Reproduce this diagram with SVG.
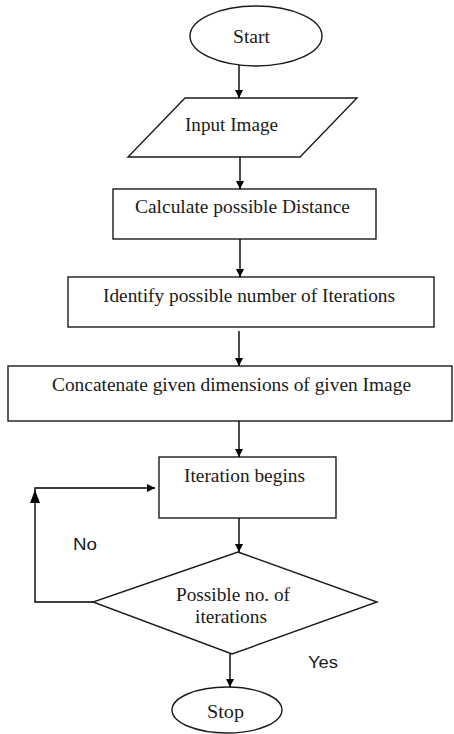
<svg xmlns="http://www.w3.org/2000/svg" width="454" height="734" viewBox="0 0 454 734">
<defs>
<marker id="ah" viewBox="0 0 10 10" refX="10" refY="5" markerWidth="8" markerHeight="8" markerUnits="userSpaceOnUse" orient="auto">
<path d="M0,0 L10,5 L0,10 z" fill="#000"/>
</marker>
</defs>
<style>
.s{fill:#fff;stroke:#1a1a1a;stroke-width:1.4}
.t{font-family:"Liberation Serif","Times New Roman",serif;font-size:18px;fill:#1a1a1a}
.l{font-family:"Liberation Sans",Arial,sans-serif;font-size:16px;fill:#1a1a1a}
.c{fill:none;stroke:#000;stroke-width:1.4}
</style>
<rect width="454" height="734" fill="#fff"/>
<g id="start">
<ellipse class="s" cx="256" cy="36" rx="66" ry="30"/>
<text class="t" x="233" y="43" textLength="37" lengthAdjust="spacingAndGlyphs">Start</text>
</g>
<g id="input">
<polygon class="s" points="185,98 357,98 300,157 128,157"/>
<text class="t" x="185" y="131" textLength="93" lengthAdjust="spacingAndGlyphs">Input Image</text>
</g>
<g id="calc">
<rect class="s" x="113" y="189" width="263" height="50"/>
<text class="t" x="135" y="213" textLength="215" lengthAdjust="spacingAndGlyphs">Calculate possible Distance</text>
</g>
<g id="identify">
<rect class="s" x="68" y="277" width="366" height="50"/>
<text class="t" x="103" y="302" textLength="292" lengthAdjust="spacingAndGlyphs">Identify possible number of Iterations</text>
</g>
<g id="concat">
<rect class="s" x="8" y="366" width="444" height="55"/>
<text class="t" x="52" y="391" textLength="359" lengthAdjust="spacingAndGlyphs">Concatenate given dimensions of given Image</text>
</g>
<g id="iter">
<rect class="s" x="159" y="457" width="177" height="61"/>
<text class="t" x="184" y="482" textLength="121" lengthAdjust="spacingAndGlyphs">Iteration begins</text>
</g>
<g id="decision">
<polygon class="s" points="238,552 377,602 232,654 93,602"/>
<text class="t" x="176" y="601" textLength="114" lengthAdjust="spacingAndGlyphs">Possible no. of</text>
<text class="t" x="195" y="623" textLength="72" lengthAdjust="spacingAndGlyphs">iterations</text>
</g>
<g id="stop">
<ellipse class="s" cx="227" cy="710" rx="55" ry="23"/>
<text class="t" x="207" y="718" textLength="37" lengthAdjust="spacingAndGlyphs">Stop</text>
</g>
<g id="connectors">
<line class="c" x1="239" y1="65" x2="239" y2="98" marker-end="url(#ah)"/>
<line class="c" x1="240" y1="157" x2="240" y2="189" marker-end="url(#ah)"/>
<line class="c" x1="240" y1="239" x2="240" y2="277" marker-end="url(#ah)"/>
<line class="c" x1="239" y1="331" x2="239" y2="366" marker-end="url(#ah)"/>
<line class="c" x1="239" y1="421" x2="239" y2="457" marker-end="url(#ah)"/>
<line class="c" x1="239" y1="518" x2="239" y2="552" marker-end="url(#ah)"/>
<polyline class="c" points="93,602 35,602 35,488 155,488" marker-end="url(#ah)"/>
<polygon points="35,490 30,503 40,503" fill="#000"/>
<line class="c" x1="230" y1="654" x2="230" y2="687" marker-end="url(#ah)"/>
<text class="l" x="73" y="550" textLength="24" lengthAdjust="spacingAndGlyphs">No</text>
<text class="l" x="308" y="668" textLength="30" lengthAdjust="spacingAndGlyphs">Yes</text>
</g>
</svg>
